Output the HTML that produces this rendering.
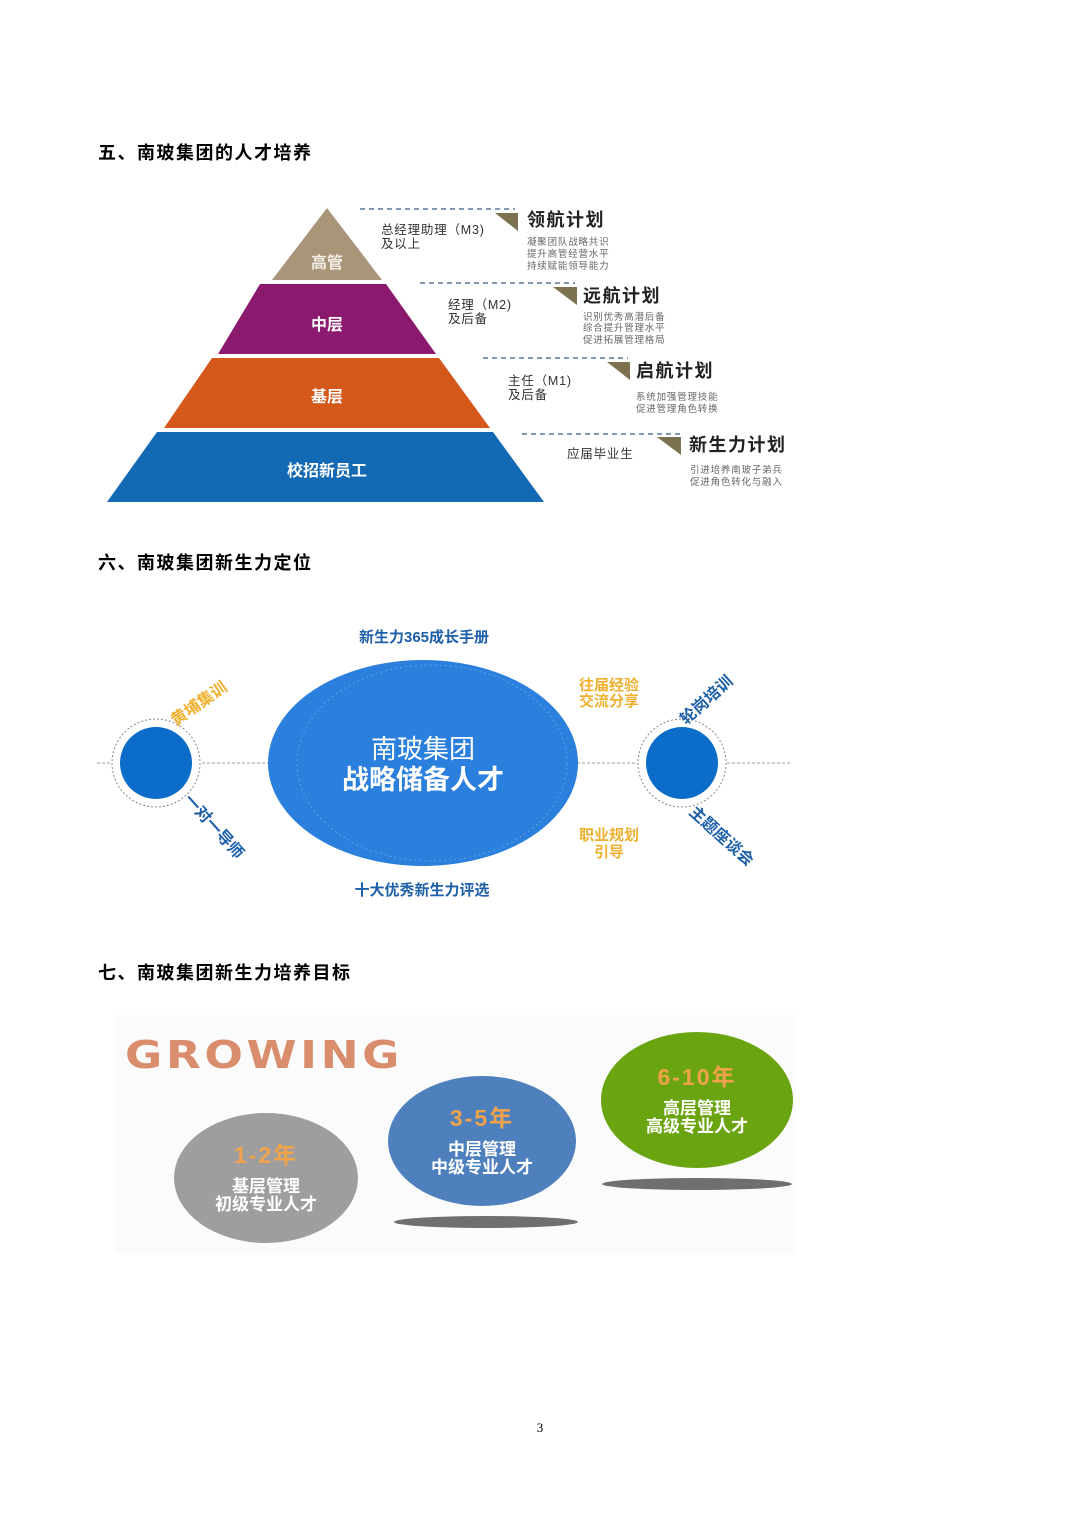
<!DOCTYPE html>
<html><head><meta charset="utf-8"><style>
body{margin:0;background:#fff;}
svg{display:block;font-family:"Liberation Sans","Noto Sans CJK SC",sans-serif;}
</style></head><body>
<svg width="1080" height="1527" viewBox="0 0 1080 1527" xmlns="http://www.w3.org/2000/svg">
<rect width="1080" height="1527" fill="#fff"/>
<g font-family="'Noto Sans CJK SC',sans-serif" font-weight="bold" font-size="18" fill="#000" letter-spacing="1.5">
<text x="98" y="159">五、南玻集团的人才培养</text>
<text x="98" y="569">六、南玻集团新生力定位</text>
<text x="98" y="979">七、南玻集团新生力培养目标</text>
</g>
<!-- Pyramid -->
<polygon points="327,208 382,280 272,280" fill="#a8957a"/>
<polygon points="260,284 386,284 436,354 218,354" fill="#8b1a6e"/>
<polygon points="212,358 439,358 490,428 164,428" fill="#d4581a"/>
<polygon points="157,432 493,432 544,502 107,502" fill="#1369b4"/>
<g font-weight="bold" fill="#fff" font-size="16" text-anchor="middle">
<text x="327" y="268" fill="#f4efe6">高管</text>
<text x="327" y="330">中层</text>
<text x="327" y="402">基层</text>
<text x="327" y="476">校招新员工</text>
</g>
<g stroke="#3a5a80" stroke-width="1.3" stroke-dasharray="5,4">
<line x1="360" y1="209" x2="515" y2="209"/>
<line x1="420" y1="283" x2="575" y2="283"/>
<line x1="483" y1="358" x2="628" y2="358"/>
<line x1="522" y1="434" x2="680" y2="434"/>
</g>
<g fill="#7d7250">
<polygon points="495,213 518,213 518,231"/>
<polygon points="553,287 577,287 577,305"/>
<polygon points="607,362 630,362 630,380"/>
<polygon points="657,437 681,437 681,455"/>
</g>
<g font-size="12.5" fill="#333" letter-spacing="0.8">
<text x="381" y="234">总经理助理（M3)</text><text x="381" y="248">及以上</text>
<text x="448" y="309">经理（M2)</text><text x="448" y="323">及后备</text>
<text x="508" y="385">主任（M1)</text><text x="508" y="399">及后备</text>
<text x="567" y="458">应届毕业生</text>
</g>
<g font-size="18" font-weight="bold" fill="#222" letter-spacing="1.5">
<text x="527" y="226">领航计划</text>
<text x="583" y="302">远航计划</text>
<text x="636" y="377">启航计划</text>
<text x="689" y="451">新生力计划</text>
</g>
<g font-size="9.5" fill="#666" letter-spacing="0.8">
<text x="527" y="245">凝聚团队战略共识</text><text x="527" y="257">提升高管经营水平</text><text x="527" y="269">持续赋能领导能力</text>
<text x="583" y="320">识别优秀高潜后备</text><text x="583" y="331">综合提升管理水平</text><text x="583" y="343">促进拓展管理格局</text>
<text x="636" y="400">系统加强管理技能</text><text x="636" y="412">促进管理角色转换</text>
<text x="690" y="473">引进培养南玻子弟兵</text><text x="690" y="485">促进角色转化与融入</text>
</g>
<!-- Section 6 -->
<line x1="97" y1="763" x2="790" y2="763" stroke="#999" stroke-width="1" stroke-dasharray="3,2"/>
<ellipse cx="423" cy="763" rx="155" ry="103" fill="#2b80dd"/>
<ellipse cx="432" cy="763" rx="135" ry="98" fill="none" stroke="#5d9fe6" stroke-dasharray="2,3"/>
<circle cx="156" cy="763" r="44" fill="#fff" stroke="#888" stroke-dasharray="2,2"/>
<circle cx="156" cy="763" r="36" fill="#0b6cc9"/>
<circle cx="682" cy="763" r="44" fill="#fff" stroke="#888" stroke-dasharray="2,2"/>
<circle cx="682" cy="763" r="36" fill="#0b6cc9"/>
<text x="423" y="758" text-anchor="middle" font-size="26" fill="#fff">南玻集团</text>
<text x="423" y="789" text-anchor="middle" font-size="27" font-weight="bold" fill="#fff">战略储备人才</text>
<g font-size="15" font-weight="bold" fill="#1d5fa8" text-anchor="middle">
<text x="424" y="642">新生力365成长手册</text>
<text x="422" y="895">十大优秀新生力评选</text>
</g>
<g font-size="15" font-weight="bold" fill="#f0b030" text-anchor="middle">
<text x="609" y="690">往届经验</text><text x="609" y="706">交流分享</text>
<text x="609" y="840">职业规划</text><text x="609" y="857">引导</text>
<text transform="translate(202,708) rotate(-35)" font-size="16">黄埔集训</text>
</g>
<g font-size="16" font-weight="bold" fill="#1d5fa8" text-anchor="middle">
<text transform="translate(710,704) rotate(-42)">轮岗培训</text>
<text transform="translate(210,830) rotate(48)">一对一导师</text>
<text transform="translate(718,840) rotate(42)">主题座谈会</text>
</g>
<!-- Section 7 -->
<rect x="115" y="1015" width="680" height="238" fill="#fbfbfb"/>
<text x="125" y="1068" font-size="38" font-weight="bold" fill="#d98d6c" letter-spacing="3" font-family="'DejaVu Sans','Liberation Sans',sans-serif" textLength="278" lengthAdjust="spacingAndGlyphs">GROWING</text>
<ellipse cx="486" cy="1222" rx="92" ry="6" fill="#333" opacity="0.7"/>
<ellipse cx="697" cy="1184" rx="95" ry="6" fill="#333" opacity="0.7"/>
<ellipse cx="266" cy="1178" rx="92" ry="65" fill="#9e9e9e"/>
<ellipse cx="482" cy="1141" rx="94" ry="65" fill="#4f80be"/>
<ellipse cx="697" cy="1100" rx="96" ry="68" fill="#6aa511"/>
<g font-weight="bold" text-anchor="middle">
<text x="266" y="1163" font-size="23" fill="#f0a24a" letter-spacing="2">1-2年</text>
<text x="266" y="1192" font-size="17" fill="#fff">基层管理</text>
<text x="266" y="1210" font-size="17" fill="#fff">初级专业人才</text>
<text x="482" y="1126" font-size="23" fill="#f0a24a" letter-spacing="2">3-5年</text>
<text x="482" y="1155" font-size="17" fill="#fff">中层管理</text>
<text x="482" y="1173" font-size="17" fill="#fff">中级专业人才</text>
<text x="697" y="1085" font-size="23" fill="#f0a24a" letter-spacing="2">6-10年</text>
<text x="697" y="1114" font-size="17" fill="#fff">高层管理</text>
<text x="697" y="1132" font-size="17" fill="#fff">高级专业人才</text>
</g>
<text x="540" y="1432" text-anchor="middle" font-size="13" font-family="'Liberation Serif',serif" fill="#000">3</text>
</svg>
</body></html>
